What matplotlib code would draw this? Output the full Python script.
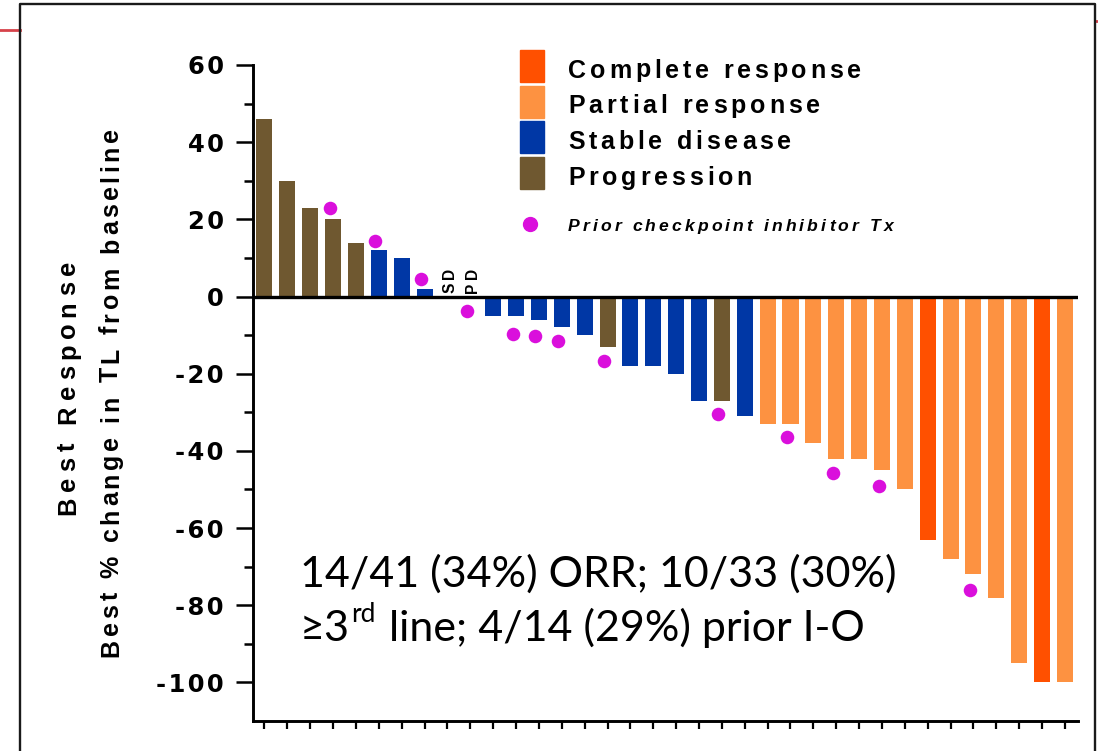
import numpy as np
import matplotlib
matplotlib.use('Agg')
import matplotlib.pyplot as plt
from matplotlib.font_manager import FontProperties,findfont,get_font
from matplotlib.lines import Line2D
from matplotlib.patches import Rectangle
from matplotlib.ticker import FuncFormatter,FixedLocator

W,H,DPI=1098,751,100

# best % change in target lesions, one bar per patient
pct=[46,30,23,20,14,12,10,2,0,0,-5,-5,-6,-8,-10,-13,-18,-18,-20,-27,-27,-31,
     -33,-33,-38,-42,-42,-45,-50,-63,-68,-72,-78,-95,-100,-100]
resp=(['PD']*5+['SD']*4+['PD']+['SD']*5+['PD']+['SD']*4+['PD','SD']
      +['PR']*7+['CR']+['PR']*4+['CR','PR'])
zero_idx=[8,9]
zero_lab=['SD','PD']
# patients with prior checkpoint inhibitor therapy
cpi_idx=[3,5,7,9,11,12,13,15,20,23,25,27,31]
cpi_val=[23,14.5,4.6,-3.8,-9.6,-10.2,-11.6,-16.8,-30.5,-36.4,-45.7,-49.1,-76]
leg_key=['CR','PR','SD','PD']
leg_lab=['Complete response','Partial response','Stable disease','Progression']
cpi_lab='Prior checkpoint inhibitor Tx'
yticks=list(range(-100,61,20))
ylab1='Best Response'
ylab2='Best % change in TL from baseline'
note1='14/41 (34%) ORR; 10/33 (30%)'
note2=['≥3','rd','line; 4/14 (29%) prior I-O']

col={'CR':'#ff5000','PR':'#fd9241','SD':'#0037a5','PD':'#6f5830'}
DOT='#da0fdc'

fig=plt.figure(figsize=(W/DPI,H/DPI),dpi=DPI)

def fp(px,family='Liberation Sans',style='normal'):
    return FontProperties(family=family,weight='bold',style=style,size=px*72/DPI)

def spaced(s,x,y,prop,track,rot=0):
    # letter-spaced text, x/y in pixels from the top-left corner
    f=get_font(findfont(prop))
    for ch in s:
        if ch!=' ':
            fig.text(x/W,1-y/H,ch,fontproperties=prop,rotation=rot,
                     rotation_mode='anchor',ha='left',va='baseline')
        f.set_size(prop.get_size_in_points(),DPI)
        a=f.load_char(ord(ch)).linearHoriAdvance/65536+track
        if rot==90: y-=a
        else: x+=a

# slide frame
fig.add_artist(Line2D([0,19.5/W],[1-30/H]*2,color='#d6424a',lw=2,transform=fig.transFigure))
fig.add_artist(Line2D([1095/W,1],[1-21/H]*2,color='#d6424a',lw=2,transform=fig.transFigure))
fig.add_artist(Line2D(np.array([19.5,19.5,1094.5,1094.5])/W,1-np.array([760,4,4,760])/H,
                      color='#1a1a1a',lw=1.7,transform=fig.transFigure,clip_on=False))

ax=fig.add_axes([253/W,30/H,825/W,656/H])
x=np.arange(len(pct))
ax.bar(x,pct,width=0.7,color=[col[r] for r in resp],zorder=2)
ax.scatter(np.array(cpi_idx)-0.15,cpi_val,s=95,color=DOT,lw=0,zorder=3)
ax.axhline(0,color='k',lw=2.4,zorder=4)
ax.set_xlim(-0.5,35.57)
ax.set_ylim(-110,60)
for s in ['top','right']:
    ax.spines[s].set_visible(False)
for s in ['left','bottom']:
    ax.spines[s].set_linewidth(2.1)
ax.set_xticks(x)
ax.set_xticklabels([])
ax.set_yticks(yticks)
ax.yaxis.set_minor_locator(FixedLocator(list(range(-90,60,20))))
ax.yaxis.set_major_formatter(FuncFormatter(lambda v,p:'\u200a'.join(f'{int(v)}')))
ax.tick_params(axis='x',length=6,width=1.6)
ax.tick_params(axis='y',which='major',length=12.5,width=1.8,pad=8.5,labelsize=17.5)
ax.tick_params(axis='y',which='minor',length=6.5,width=1.8)
for t in ax.get_yticklabels():
    t.set_fontweight('bold')
    t.set_family('DejaVu Sans')

# zero-change labels above the axis line
for i,lab in zip(zero_idx,zero_lab):
    px,py=ax.transData.transform((i,0))
    spaced(lab,px+7,H-py-4,fp(15.5),3.5,rot=90)

spaced(ylab1,75,515,fp(25.5),5.8,rot=90)
spaced(ylab2,118,657,fp(25),3.6,rot=90)

# legend
for i,(k,lab) in enumerate(zip(leg_key,leg_lab)):
    top=50+i*35.7
    fig.add_artist(Rectangle((520/W,1-(top+32)/H),24/W,32/H,color=col[k],transform=fig.transFigure))
    spaced(lab,568,top+27.5,fp(25),3.8)
fig.add_artist(Line2D([530/W],[1-224/H],marker='o',ms=10,color=DOT,lw=0,transform=fig.transFigure))
spaced(cpi_lab,568,231,fp(17.5,style='italic'),3.1)

# response-rate note
nf=['Lato','DejaVu Sans']
fig.text(300/W,1-587/H,note1,family=nf,size=31,va='baseline')
r=fig.canvas.get_renderer()
t=fig.text(300/W,1-641/H,note2[0],family=nf,size=31,va='baseline')
x1=t.get_window_extent(r).x1
t=fig.text((x1+1)/W,1-622/H,note2[1],family=nf,size=19,va='baseline')
x1=t.get_window_extent(r).x1
fig.text((x1+14)/W,1-641/H,note2[2],family=nf,size=31,va='baseline')

fig.savefig('out.png',dpi=DPI)
